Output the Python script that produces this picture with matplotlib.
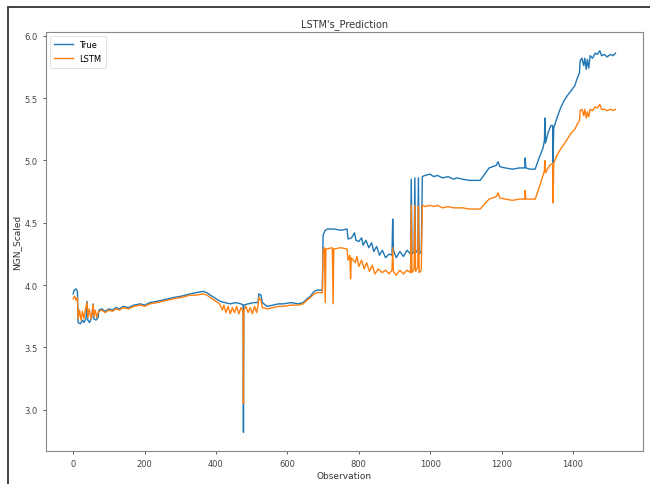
import numpy as np
import matplotlib.pyplot as plt
from matplotlib.patches import Rectangle
plt.switch_backend("Agg")

# values (observation, scaled value)
true_obs = [0, 3, 8, 12, 14, 20, 26, 30, 36, 39, 41, 46, 52, 56, 58, 64, 70, 72, 80, 90,
            100, 110, 120, 130, 140, 155, 170, 188, 200, 215, 235, 250, 265, 280, 300, 315,
            328, 345, 364, 375, 384, 395, 412, 425, 440, 455, 470, 476, 477, 478, 490, 505,
            518, 520, 526, 530, 543, 560, 575, 590, 610, 630, 644, 655, 664, 675, 683, 698,
            700, 706, 712, 730, 750, 767, 770, 780, 788, 792, 800, 808, 812, 820, 828, 836,
            842, 850, 858, 866, 875, 885, 893, 895, 897, 905, 915, 925, 935, 945, 947, 949,
            955, 957, 959, 965, 967, 969, 975, 978, 985, 1000, 1010, 1020, 1035, 1050, 1065,
            1075, 1090, 1110, 1130, 1140, 1155, 1165, 1175, 1185, 1190, 1195, 1210, 1230,
            1250, 1265, 1266, 1268, 1280, 1294, 1305, 1316, 1320, 1321, 1323, 1330, 1338,
            1343, 1344, 1346, 1355, 1365, 1375, 1384, 1395, 1405, 1412, 1418, 1420, 1425,
            1430, 1433, 1437, 1440, 1444, 1448, 1455, 1462, 1468, 1475, 1480, 1488, 1495,
            1505, 1512, 1519]
true_val = [3.93, 3.96, 3.97, 3.95, 3.70, 3.69, 3.72, 3.70, 3.73, 3.87, 3.72, 3.70, 3.74, 3.85,
            3.73, 3.72, 3.74, 3.80, 3.81, 3.79, 3.81, 3.80, 3.82, 3.81, 3.83, 3.82, 3.84, 3.85,
            3.84, 3.86, 3.87, 3.88, 3.89, 3.90, 3.91, 3.92, 3.93, 3.94, 3.95, 3.94, 3.92, 3.90,
            3.87, 3.86, 3.85, 3.86, 3.85, 3.84, 2.82, 3.84, 3.85, 3.86, 3.86, 3.93, 3.92, 3.86,
            3.83, 3.84, 3.85, 3.85, 3.86, 3.85, 3.86, 3.89, 3.91, 3.95, 3.96, 3.96, 4.40, 4.44,
            4.45, 4.45, 4.44, 4.45, 4.37, 4.38, 4.42, 4.36, 4.35, 4.38, 4.32, 4.36, 4.30, 4.34,
            4.27, 4.31, 4.24, 4.28, 4.22, 4.25, 4.24, 4.53, 4.28, 4.22, 4.27, 4.23, 4.28, 4.25,
            4.85, 4.25, 4.27, 4.86, 4.26, 4.28, 4.86, 4.25, 4.27, 4.87, 4.88, 4.89, 4.87, 4.88,
            4.86, 4.87, 4.85, 4.86, 4.85, 4.84, 4.84, 4.84, 4.90, 4.94, 4.95, 4.96, 4.99, 4.95,
            4.94, 4.93, 4.94, 4.94, 5.02, 4.94, 4.93, 4.93, 5.02, 5.10, 5.16, 5.34, 5.14, 5.22,
            5.28, 5.28, 4.98, 5.26, 5.34, 5.42, 5.48, 5.52, 5.56, 5.60, 5.66, 5.70, 5.80, 5.82,
            5.76, 5.82, 5.73, 5.81, 5.74, 5.84, 5.82, 5.86, 5.85, 5.88, 5.84, 5.85, 5.83, 5.85,
            5.84, 5.86]

lstm_obs = [0, 4, 8, 12, 14, 18, 22, 26, 30, 34, 39, 41, 45, 50, 54, 56, 58, 62, 66, 70, 72,
            80, 90, 100, 110, 120, 130, 140, 155, 170, 188, 200, 215, 235, 250, 265, 280, 300,
            315, 328, 345, 364, 375, 384, 395, 410, 418, 422, 428, 434, 440, 446, 452, 458,
            464, 470, 476, 477, 478, 484, 490, 496, 502, 508, 514, 518, 520, 526, 530, 543,
            560, 575, 590, 610, 630, 644, 655, 664, 675, 683, 698, 700, 704, 706, 708, 726,
            728, 730, 750, 767, 770, 775, 777, 779, 790, 795, 800, 808, 815, 822, 830, 838,
            845, 855, 865, 875, 885, 893, 895, 897, 905, 915, 925, 935, 945, 947, 949, 955,
            957, 959, 965, 967, 969, 975, 978, 985, 1000, 1010, 1020, 1035, 1050, 1065, 1075,
            1090, 1110, 1130, 1140, 1155, 1165, 1175, 1185, 1190, 1195, 1210, 1230, 1250,
            1265, 1266, 1268, 1280, 1294, 1305, 1316, 1320, 1321, 1323, 1330, 1338, 1343,
            1344, 1346, 1355, 1365, 1375, 1384, 1395, 1405, 1412, 1418, 1420, 1425, 1430,
            1433, 1437, 1440, 1444, 1448, 1455, 1462, 1468, 1475, 1480, 1488, 1495, 1505,
            1512, 1519]
lstm_val = [3.89, 3.91, 3.88, 3.90, 3.73, 3.80, 3.72, 3.79, 3.73, 3.80, 3.86, 3.74, 3.81, 3.73,
            3.79, 3.84, 3.75, 3.80, 3.74, 3.78, 3.79, 3.80, 3.78, 3.80, 3.79, 3.81, 3.80, 3.82,
            3.81, 3.83, 3.84, 3.83, 3.85, 3.86, 3.87, 3.88, 3.89, 3.90, 3.91, 3.92, 3.92, 3.93,
            3.92, 3.90, 3.88, 3.85, 3.80, 3.84, 3.78, 3.83, 3.77, 3.82, 3.78, 3.83, 3.77, 3.82,
            3.78, 3.05, 3.80, 3.83, 3.78, 3.82, 3.77, 3.83, 3.78, 3.84, 3.90, 3.88, 3.82, 3.81,
            3.82, 3.83, 3.83, 3.84, 3.84, 3.85, 3.88, 3.90, 3.93, 3.94, 3.94, 4.28, 4.30, 3.86,
            4.29, 4.30, 3.85, 4.29, 4.30, 4.29, 4.20, 4.24, 4.05, 4.22, 4.18, 4.23, 4.15, 4.20,
            4.13, 4.18, 4.11, 4.16, 4.09, 4.13, 4.10, 4.12, 4.09, 4.12, 4.30, 4.11, 4.08, 4.12,
            4.09, 4.12, 4.10, 4.64, 4.10, 4.13, 4.64, 4.11, 4.14, 4.63, 4.10, 4.12, 4.64, 4.63,
            4.64, 4.63, 4.64, 4.62, 4.63, 4.62, 4.62, 4.62, 4.61, 4.61, 4.61, 4.66, 4.69, 4.70,
            4.71, 4.74, 4.70, 4.69, 4.68, 4.69, 4.69, 4.76, 4.69, 4.69, 4.69, 4.78, 4.88, 4.92,
            5.00, 4.90, 4.94, 4.97, 4.97, 4.66, 4.98, 5.04, 5.09, 5.13, 5.17, 5.22, 5.25, 5.29,
            5.32, 5.40, 5.41, 5.36, 5.41, 5.34, 5.39, 5.35, 5.41, 5.40, 5.43, 5.42, 5.45, 5.41,
            5.41, 5.40, 5.41, 5.40, 5.41]

x_ticks = [0, 200, 400, 600, 800, 1000, 1200, 1400]
y_ticks = [3.0, 3.5, 4.0, 4.5, 5.0, 5.5, 6.0]

W, H = 650, 485
fig = plt.figure(figsize=(W / 100, H / 100), dpi=100)

# screenshot frame around the figure (right and bottom edges fall off the image)
fig.add_artist(Rectangle((8 / W, -0.01), 1.02 - 8 / W, 1.01 - 8 / H,
                         transform=fig.transFigure, fill=False,
                         edgecolor="#333333", lw=1.3))

ax = fig.add_axes([46 / W, 1 - 452 / H, (643 - 46) / W, (452 - 33) / H])
ax.plot(true_obs, true_val, color="#1f77b4", lw=1.0, label="True")
ax.plot(lstm_obs, lstm_val, color="#ff7f0e", lw=1.0, label="LSTM")

ax.set_xticks(x_ticks)
ax.set_yticks(y_ticks)
ax.set_xlim(-76, 1596)
ax.set_ylim(2.67, 6.03)
ax.tick_params(labelsize=6, colors="#444444", length=2.5, width=0.6)
for s in ax.spines.values():
    s.set_color("#888888")
    s.set_linewidth(0.8)

ax.set_title("LSTM's_Prediction", fontsize=7, color="#333333", pad=4)
ax.set_xlabel("Observation", fontsize=6.5, color="#333333", labelpad=2)
ax.set_ylabel("NGN_Scaled", fontsize=6.5, color="#333333", labelpad=2)
leg = ax.legend(loc="upper left", fontsize=6, frameon=True, handlelength=2.2,
                borderpad=0.5, labelspacing=0.6)
leg.get_frame().set_linewidth(0.5)

fig.savefig("out.png", dpi=100)
plt.close(fig)
